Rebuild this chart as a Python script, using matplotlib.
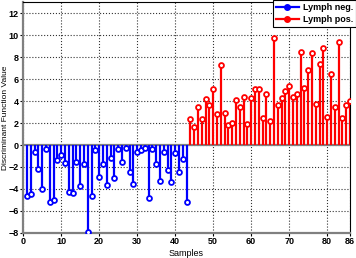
import matplotlib
matplotlib.use("Agg")
import matplotlib.pyplot as plt
from matplotlib.lines import Line2D

# discriminant values
neg_samples = list(range(1, 44))
neg_values = [-4.6, -4.5, -0.6, -2.2, -4.0, -0.33, -5.2, -5.0, -1.4, -0.9,
              -1.6, -4.3, -4.4, -1.5, -3.7, -1.75, -7.9, -4.6, -0.45, -2.9,
              -1.7, -3.6, -1.15, -3.0, -0.33, -1.5, -0.3, -2.5, -3.55, -0.6,
              -0.45, -0.3, -4.8, -0.4, -1.7, -3.25, -0.6, -2.3, -3.35, -0.75,
              -2.5, -1.3, -5.2]

pos_samples = list(range(44, 87))
pos_values = [2.4, 1.6, 3.45, 2.35, 4.2, 3.6, 5.1, 2.85, 7.3, 2.9,
              1.8, 2.0, 4.05, 3.5, 4.35, 1.9, 4.3, 5.1, 5.1, 2.5,
              4.6, 2.15, 9.7, 3.6, 4.3, 4.95, 5.4, 4.35, 4.65, 8.5,
              5.2, 6.8, 8.4, 3.7, 7.35, 8.8, 2.55, 6.45, 3.45, 9.4,
              2.45, 3.6, 4.0]

xticks = [0, 10, 20, 30, 40, 50, 60, 70, 80, 86]
yticks = [-8, -6, -4, -2, 0, 2, 4, 6, 8, 10, 12]

plt.rcParams['font.family'] = ['Liberation Sans', 'DejaVu Sans']
plt.rcParams['font.size'] = 6.5
plt.rcParams['font.weight'] = 'bold'

fig = plt.figure(figsize=(3.56, 2.58), dpi=100)
ax = fig.add_axes([0.065, 0.097, 0.918, 0.895])

ax.grid(True, color='k', linestyle=':', linewidth=0.8, alpha=0.8)
ax.set_axisbelow(True)
ax.axhline(0, color='#808080', linewidth=1.6, zorder=1)

for xs, ys, col in [(neg_samples, neg_values, 'blue'), (pos_samples, pos_values, 'red')]:
    ml, sl, bl = ax.stem(xs, ys, basefmt=' ')
    plt.setp(sl, color=col, linewidth=1.6, zorder=2)
    plt.setp(ml, color=col, marker='o', markersize=3.5, markerfacecolor='white',
             markeredgewidth=1.3, zorder=3)

ax.set_xlim(0, 86)
ax.set_ylim(-8, 13)
ax.set_xticks(xticks)
ax.set_yticks(yticks)
ax.tick_params(length=2, width=0.8, pad=1.2)

for s in ['left', 'bottom']:
    ax.spines[s].set_color('#808080')
    ax.spines[s].set_linewidth(1.6)
for s in ['top', 'right']:
    ax.spines[s].set_color('k')
    ax.spines[s].set_linewidth(0.8)

ax.set_xlabel("Samples")
ax.set_ylabel("Discriminant Function Value", fontsize=6)
ax.xaxis.set_label_coords(0.5, -0.068)
ax.yaxis.set_label_coords(-0.043, 0.5)

handles = [Line2D([0], [0], color='blue', marker='o', markersize=4, linewidth=1.6),
           Line2D([0], [0], color='red', marker='o', markersize=4, linewidth=1.6)]
leg = ax.legend(handles, ["Lymph neg.", "Lymph pos."], loc='upper right',
                bbox_to_anchor=(1.02, 1.01), borderaxespad=0, fancybox=False,
                framealpha=1, edgecolor='k', handlelength=2.5, borderpad=0.35,
                labelspacing=0.35, handletextpad=0.5)
leg.get_frame().set_linewidth(0.8)

fig.savefig("out.png", dpi=100)
